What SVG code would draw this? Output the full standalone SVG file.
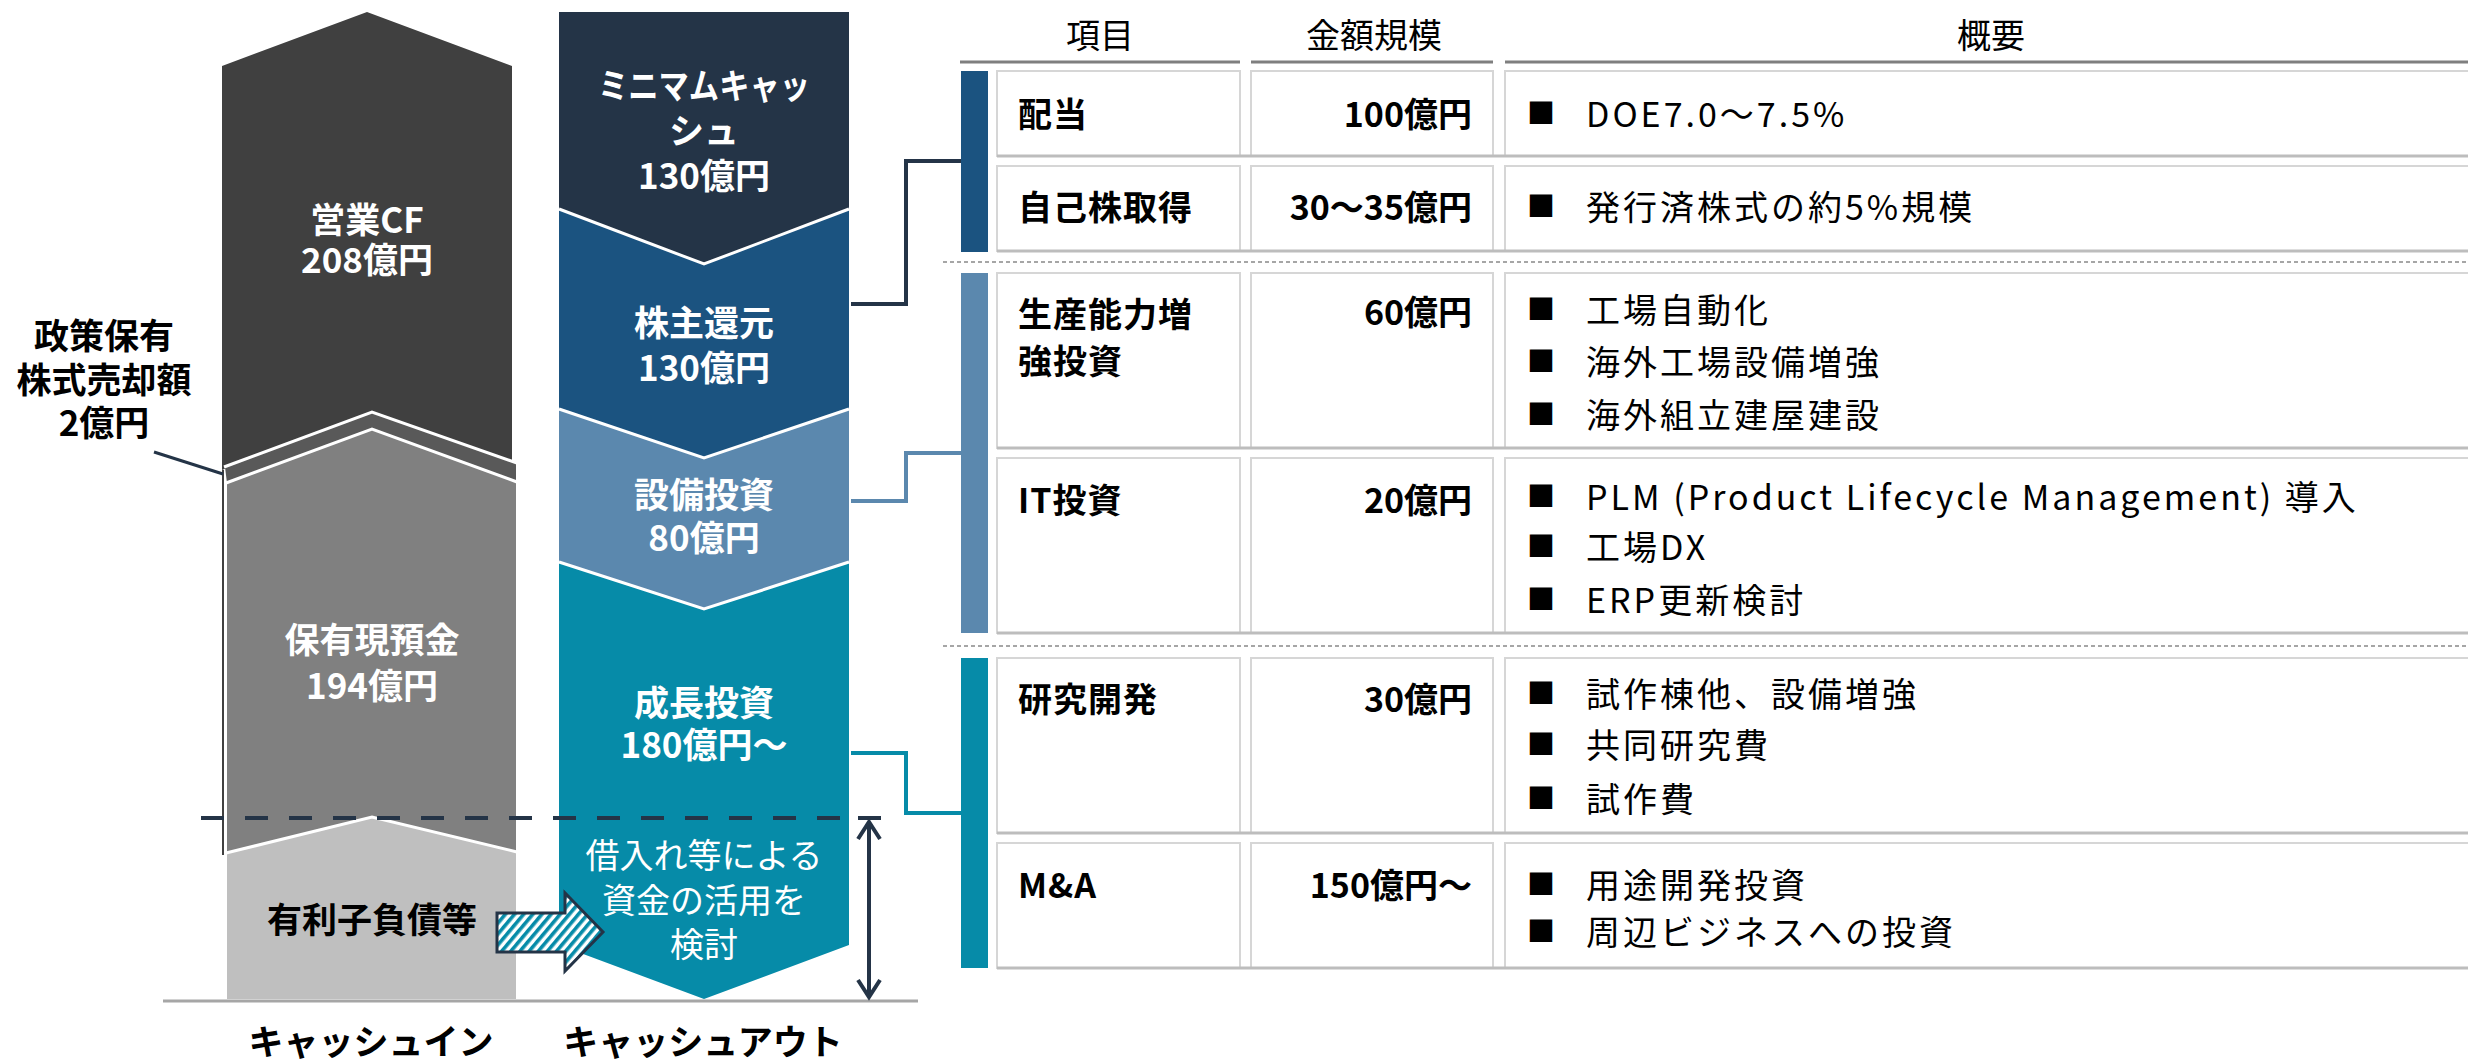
<svg xmlns="http://www.w3.org/2000/svg" width="2468" height="1061" viewBox="0 0 2468 1061">
<style>
text { font-family: "Noto Sans CJK JP", "Noto Sans", sans-serif; dominant-baseline: central; }
.w { fill: #ffffff; font-size: 35px; font-weight: bold; text-anchor: middle; }
.wn { fill: #ffffff; font-size: 34px; font-weight: normal; text-anchor: middle; }
.kb { fill: #000000; font-size: 35px; font-weight: bold; text-anchor: middle; }
.hd { fill: #000000; font-size: 34px; text-anchor: middle; }
.tb { fill: #000000; font-size: 34px; font-weight: bold; letter-spacing: 1px; }
.am { fill: #000000; font-size: 34px; font-weight: bold; text-anchor: end; }
.tn { fill: #000000; font-size: 34px; letter-spacing: 3px; }
.bl { fill: #000000; font-size: 28px; }
.sep { stroke: #ffffff; stroke-width: 3; fill: none; stroke-linejoin: miter; }
.cell { fill: #ffffff; stroke: #d6d6d6; stroke-width: 2; }
.cellb { stroke: #bdbdbd; stroke-width: 3; }
.hline { stroke: #7f7f7f; stroke-width: 3; }
.dsep { stroke: #a6a6a6; stroke-width: 2; stroke-dasharray: 4 3; }
.conn { fill: none; stroke-width: 4; }
</style>
<defs>
<pattern id="hatch" patternUnits="userSpaceOnUse" width="7" height="7" patternTransform="rotate(40)">
<rect width="7" height="7" fill="#ffffff"/>
<rect width="3.6" height="7" fill="#068ba8"/>
</pattern>
</defs>

<!-- Cash-in column -->
<g id="eigyo-cf">
<polygon points="222,66 367,12 512,66 512,466 372,412 222,470" fill="#404040"/>
<text class="w" font-weight="normal"><tspan x="367" y="217">営業CF</tspan><tspan x="367" y="257">208億円</tspan></text>
</g>
<g id="seisaku-slice">
<polygon points="225,467 372,412 516,463 516,482 372,429 227,483" fill="#595959"/>
</g>
<g id="hoyu-genyokin">
<polygon points="227,483 372,429 516,482 516,852 372,817 227,853" fill="#808080"/>
<text class="w"><tspan x="372" y="637">保有現預金</tspan><tspan x="372" y="683">194億円</tspan></text>
</g>
<g id="yurishi-fusai">
<polygon points="227,853 372,817 516,852 516,999 227,999" fill="#bfbfbf"/>
<text class="kb" x="372" y="917">有利子負債等</text>
</g>
<polyline class="sep" points="224,467 372,412 517,463"/>
<polyline class="sep" points="226,483 372,429 517,482"/>
<polyline class="sep" points="226,853 372,817 517,852"/>
<line x1="223" y1="470" x2="223" y2="855" stroke="#404040" stroke-width="2"/>

<g id="seisaku-label">
<text class="kb"><tspan x="104" y="333">政策保有</tspan><tspan x="104" y="377">株式売却額</tspan><tspan x="104" y="420">2億円</tspan></text>
</g>

<!-- Cash-out column -->
<g id="minimum-cash">
<polygon points="559,12 849,12 849,209 704,264 559,209" fill="#243447"/>
<text class="w"><tspan x="704" y="83" textLength="212" lengthAdjust="spacingAndGlyphs">ミニマムキャッ</tspan><tspan x="704" y="128">シュ</tspan><tspan x="704" y="173">130億円</tspan></text>
</g>
<g id="kabunushi-kangen">
<polygon points="559,209 704,264 849,209 849,409 704,458 559,409" fill="#1b5380"/>
<text class="w"><tspan x="704" y="320">株主還元</tspan><tspan x="704" y="365">130億円</tspan></text>
</g>
<g id="setsubi-toshi">
<polygon points="559,409 704,458 849,409 849,562 704,609 559,562" fill="#5b88ae"/>
<text class="w"><tspan x="704" y="492">設備投資</tspan><tspan x="704" y="535">80億円</tspan></text>
</g>
<g id="seicho-toshi">
<polygon points="559,562 704,609 849,562 849,945 704,999 559,945" fill="#068ba8"/>
<text class="w"><tspan x="704" y="700">成長投資</tspan><tspan x="704" y="742">180億円～</tspan></text>
<text class="wn"><tspan x="704" y="853">借入れ等による</tspan><tspan x="704" y="898">資金の活用を</tspan><tspan x="704" y="942">検討</tspan></text>
</g>
<polyline class="sep" points="559,209 704,264 849,209"/>
<polyline class="sep" points="559,409 704,458 849,409"/>
<polyline class="sep" points="559,562 704,609 849,562"/>

<!-- axis labels and lines -->
<line x1="163" y1="1001" x2="918" y2="1001" stroke="#a6a6a6" stroke-width="3"/>
<text class="kb" x="371" y="1039" font-size="31">キャッシュイン</text>
<text class="kb" x="703" y="1039" font-size="31">キャッシュアウト</text>

<!-- Connectors -->
<g id="connectors">
<line x1="154" y1="452" x2="223" y2="474" stroke="#243447" stroke-width="3"/>
<line x1="201" y1="818" x2="856" y2="818" stroke="#243447" stroke-width="4" stroke-dasharray="23 21"/>
<line x1="858" y1="818" x2="881" y2="818" stroke="#243447" stroke-width="4"/>
<line x1="869" y1="822" x2="869" y2="997" stroke="#243447" stroke-width="4"/>
<polyline points="858,839 869,822 880,839" fill="none" stroke="#243447" stroke-width="4"/>
<polyline points="858,980 869,997 880,980" fill="none" stroke="#243447" stroke-width="4"/>
<polygon points="497,913 565,913 565,893 603,932 565,971 565,952 497,952" fill="url(#hatch)" stroke="#243447" stroke-width="3" stroke-linejoin="miter"/>
<polyline class="conn" stroke="#243447" points="851,304 906,304 906,161 961,161"/>
<polyline class="conn" stroke="#5b88ae" points="851,501 906,501 906,453 961,453"/>
<polyline class="conn" stroke="#068ba8" points="851,753 906,753 906,813 961,813"/>
</g>

<!-- Table -->
<g id="table-header">
<text class="hd" x="1100" y="33">項目</text>
<text class="hd" x="1374" y="33">金額規模</text>
<text class="hd" x="1991" y="33">概要</text>
<line class="hline" x1="960" y1="62" x2="1240" y2="62"/>
<line class="hline" x1="1251" y1="62" x2="1493" y2="62"/>
<line class="hline" x1="1505" y1="62" x2="2468" y2="62"/>
<line class="dsep" x1="943" y1="262" x2="2468" y2="262"/>
<line class="dsep" x1="943" y1="646" x2="2468" y2="646"/>
</g>

<g id="bar-kangen"><rect x="961" y="71" width="27" height="181" fill="#1b5380"/></g>
<g id="bar-setsubi"><rect x="961" y="273" width="27" height="360" fill="#5b88ae"/></g>
<g id="bar-seicho"><rect x="961" y="658" width="27" height="310" fill="#068ba8"/></g>

<g id="row-haito">
<rect class="cell" x="997" y="71" width="243" height="85"/>
<rect class="cell" x="1251" y="71" width="242" height="85"/>
<rect class="cell" x="1505" y="71" width="975" height="85"/>
<line class="cellb" x1="997" y1="156" x2="2468" y2="156"/>
<text class="tb" x="1018" y="112">配当</text>
<text class="am" x="1472" y="112">100億円</text>
<text class="bl" x="1527" y="112">■</text>
<text class="tn" x="1586" y="112">DOE7.0～7.5%</text>
</g>
<g id="row-jikokabu">
<rect class="cell" x="997" y="166" width="243" height="85"/>
<rect class="cell" x="1251" y="166" width="242" height="85"/>
<rect class="cell" x="1505" y="166" width="975" height="85"/>
<line class="cellb" x1="997" y1="251" x2="2468" y2="251"/>
<text class="tb" x="1018" y="205">自己株取得</text>
<text class="am" x="1472" y="205">30～35億円</text>
<text class="bl" x="1527" y="205">■</text>
<text class="tn" x="1586" y="205">発行済株式の約5%規模</text>
</g>
<g id="row-seisan">
<rect class="cell" x="997" y="273" width="243" height="175"/>
<rect class="cell" x="1251" y="273" width="242" height="175"/>
<rect class="cell" x="1505" y="273" width="975" height="175"/>
<line class="cellb" x1="997" y1="448" x2="2468" y2="448"/>
<text class="tb"><tspan x="1018" y="312">生産能力増</tspan><tspan x="1018" y="359">強投資</tspan></text>
<text class="am" x="1472" y="310">60億円</text>
<text class="bl" x="1527" y="308">■</text>
<text class="tn" x="1586" y="308">工場自動化</text>
<text class="bl" x="1527" y="360">■</text>
<text class="tn" x="1586" y="360">海外工場設備増強</text>
<text class="bl" x="1527" y="413">■</text>
<text class="tn" x="1586" y="413">海外組立建屋建設</text>
</g>
<g id="row-it">
<rect class="cell" x="997" y="458" width="243" height="175"/>
<rect class="cell" x="1251" y="458" width="242" height="175"/>
<rect class="cell" x="1505" y="458" width="975" height="175"/>
<line class="cellb" x1="997" y1="633" x2="2468" y2="633"/>
<text class="tb" x="1018" y="498">IT投資</text>
<text class="am" x="1472" y="498">20億円</text>
<text class="bl" x="1527" y="495">■</text>
<text class="tn" x="1586" y="495">PLM (Product Lifecycle Management) 導入</text>
<text class="bl" x="1527" y="545">■</text>
<text class="tn" x="1586" y="545">工場DX</text>
<text class="bl" x="1527" y="598">■</text>
<text class="tn" x="1586" y="598">ERP更新検討</text>
</g>
<g id="row-kenkyu">
<rect class="cell" x="997" y="658" width="243" height="175"/>
<rect class="cell" x="1251" y="658" width="242" height="175"/>
<rect class="cell" x="1505" y="658" width="975" height="175"/>
<line class="cellb" x1="997" y1="833" x2="2468" y2="833"/>
<text class="tb" x="1018" y="697">研究開発</text>
<text class="am" x="1472" y="697">30億円</text>
<text class="bl" x="1527" y="692">■</text>
<text class="tn" x="1586" y="692">試作棟他、設備増強</text>
<text class="bl" x="1527" y="743">■</text>
<text class="tn" x="1586" y="743">共同研究費</text>
<text class="bl" x="1527" y="797">■</text>
<text class="tn" x="1586" y="797">試作費</text>
</g>
<g id="row-ma">
<rect class="cell" x="997" y="843" width="243" height="125"/>
<rect class="cell" x="1251" y="843" width="242" height="125"/>
<rect class="cell" x="1505" y="843" width="975" height="125"/>
<line class="cellb" x1="997" y1="968" x2="2468" y2="968"/>
<text class="tb" x="1018" y="883">M&amp;A</text>
<text class="am" x="1472" y="883">150億円～</text>
<text class="bl" x="1527" y="883">■</text>
<text class="tn" x="1586" y="883">用途開発投資</text>
<text class="bl" x="1527" y="930">■</text>
<text class="tn" x="1586" y="930">周辺ビジネスへの投資</text>
</g>
</svg>
